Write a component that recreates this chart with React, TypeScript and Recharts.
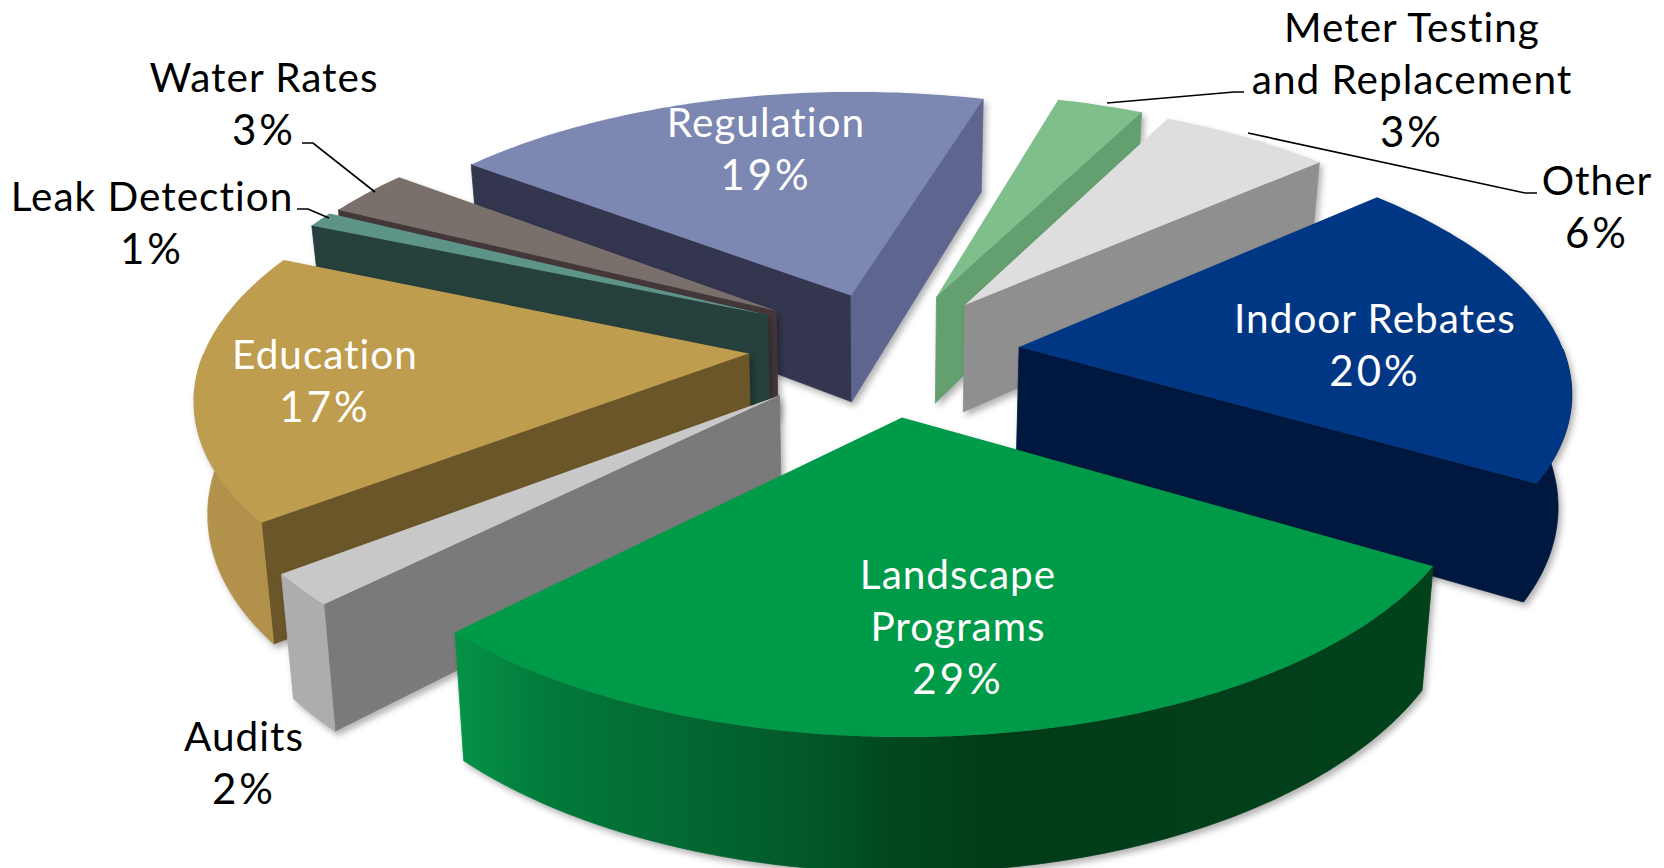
import { Pie, PieChart } from "recharts";

const categories = [
  "Landscape Programs",
  "Audits",
  "Education",
  "Leak Detection",
  "Water Rates",
  "Regulation",
  "Meter Testing and Replacement",
  "Other",
  "Indoor Rebates",
];
const shares = [29, 2, 17, 1, 3, 19, 3, 6, 20];

const rows = categories.map((name, i) => ({ name, value: shares[i] }));

// back-to-front painting order of the pulled-apart wedges
const paintOrder = [
  "Regulation",
  "Water Rates",
  "Leak Detection",
  "Education",
  "Audits",
  "Meter Testing and Replacement",
  "Other",
  "Indoor Rebates",
  "Landscape Programs",
];

const WIDTH = 1664;
const HEIGHT = 868;
const CENTER_X = 884;
const CENTER_Y = 353;
const RADIUS = 545;
const START_ANGLE = -30.5;

// camera for the tilted disc
const TILT = 0.459;
const PERSPECTIVE = 0.15;
const THICKNESS = 110;
const BASE_SHRINK = 0.98;
const EXPLODE = 0.25;

// extra pull on a few wedges, in radii on the disc
const pullExtra: Record<string, [number, number]> = {
  Regulation: [0.015, 0],
  "Meter Testing and Replacement": [0.008, 0],
  Education: [0, -0.03],
  "Water Rates": [0.008, -0.04],
  "Leak Detection": [0.008, -0.05],
};

type SliceLook = {
  top: string;
  startWall: string;
  endWall: string;
  rim: [number, string][];
};

const looks: Record<string, SliceLook> = {
  "Landscape Programs": {
    top: "#009b48",
    startWall: "#014019",
    endWall: "#014019",
    rim: [
      [0, "#049347"],
      [0.1, "#03793a"],
      [0.355, "#02592a"],
      [0.43, "#014a20"],
      [0.557, "#013b18"],
      [1, "#01421b"],
    ],
  },
  Audits: { top: "#c8c8c8", startWall: "#7a7a7a", endWall: "#7a7a7a", rim: [[0, "#adadad"], [1, "#a6a6a6"]] },
  Education: { top: "#bf9d4e", startWall: "#6b5629", endWall: "#6b5629", rim: [[0, "#b3934b"], [1, "#a5853f"]] },
  "Leak Detection": { top: "#5e9488", startWall: "#26403d", endWall: "#26403d", rim: [[0, "#26403d"], [1, "#26403d"]] },
  "Water Rates": { top: "#7a706b", startWall: "#45383a", endWall: "#45383a", rim: [[0, "#45383a"], [1, "#45383a"]] },
  Regulation: { top: "#7c87b2", startWall: "#34364f", endWall: "#5e6690", rim: [[0, "#5e6690"], [1, "#5e6690"]] },
  "Meter Testing and Replacement": {
    top: "#7fbf8c",
    startWall: "#649f70",
    endWall: "#649f70",
    rim: [[0, "#649f70"], [1, "#649f70"]],
  },
  Other: { top: "#dedede", startWall: "#8f8f8f", endWall: "#8f8f8f", rim: [[0, "#8f8f8f"], [1, "#8f8f8f"]] },
  "Indoor Rebates": { top: "#003785", startWall: "#00183f", endWall: "#00183f", rim: [[0, "#00183f"], [1, "#00183f"]] },
};

type Placement = {
  lines: string[];
  x: number;
  y: number;
  color: string;
  leader?: [number, number][];
};

const placements: Record<string, Placement> = {
  "Landscape Programs": { lines: ["Landscape", "Programs"], x: 958, y: 573, color: "#fff" },
  Audits: { lines: ["Audits"], x: 244, y: 735, color: "#000" },
  Education: { lines: ["Education"], x: 325, y: 353, color: "#fff" },
  "Leak Detection": {
    lines: ["Leak Detection"],
    x: 152,
    y: 195,
    color: "#000",
    leader: [[297, 209], [308, 209], [329, 218]],
  },
  "Water Rates": {
    lines: ["Water Rates"],
    x: 264,
    y: 76,
    color: "#000",
    leader: [[302, 143], [313, 143], [375, 192]],
  },
  Regulation: { lines: ["Regulation"], x: 766, y: 121, color: "#fff" },
  "Meter Testing and Replacement": {
    lines: ["Meter Testing", "and Replacement"],
    x: 1412,
    y: 26,
    color: "#000",
    leader: [[1107, 103], [1234, 92], [1244, 92]],
  },
  Other: {
    lines: ["Other"],
    x: 1597,
    y: 179,
    color: "#000",
    leader: [[1248, 133], [1525, 193], [1537, 193]],
  },
  "Indoor Rebates": { lines: ["Indoor Rebates"], x: 1375, y: 317, color: "#fff" },
};

const LINE_STEP = 52.5;
const FONT_SIZE = 40.5;
const PERCENT_SIZE = 42;

const rad = (deg: number) => (deg * Math.PI) / 180;

// disc position (in radii, v towards the viewer) to screen position, top or base face
function project(cx: number, cy: number, r: number, u: number, v: number, base: boolean) {
  const w = 1 - PERSPECTIVE * v;
  const x = (r * u) / w;
  const y = (r * TILT * v) / w;
  if (!base) return [cx + x, cy + y];
  return [cx + x * BASE_SHRINK, cy + y + THICKNESS / w];
}

const toPath = (pts: number[][]) =>
  "M" + pts.map((p) => `${p[0].toFixed(1)},${p[1].toFixed(1)}`).join("L") + "Z";

function Wedge(props: any) {
  const { cx, cy, outerRadius: r, startAngle, endAngle, midAngle, name } = props;
  const look = looks[name];
  const [extraU, extraV] = pullExtra[name] ?? [0, 0];
  const ou = EXPLODE * Math.cos(rad(midAngle)) + extraU;
  const ov = -EXPLODE * Math.sin(rad(midAngle)) + extraV;
  const point = (deg: number, radius: number, base: boolean) =>
    project(cx, cy, r, ou + radius * Math.cos(rad(deg)), ov - radius * Math.sin(rad(deg)), base);

  const steps = Math.max(4, Math.ceil(Math.abs(startAngle - endAngle)));
  const arc: number[] = [];
  for (let i = 0; i <= steps; i++) arc.push(startAngle + ((endAngle - startAngle) * i) / steps);

  const apex = point(0, 0, false);
  const apexBase = point(0, 0, true);
  const topFace = toPath([apex, ...arc.map((a) => point(a, 1, false))]);

  const startFaces = Math.sin(rad(startAngle + 90)) < 0;
  const endFaces = Math.sin(rad(endAngle - 90)) < 0;

  const front = arc.filter((a) => Math.sin(rad(a)) < 0);
  const rimPts = front.map((a) => point(a, 1, false));
  const rimBase = front.map((a) => point(a, 1, true)).reverse();
  const xs = rimPts.map((p) => p[0]);
  const gradientId = `rim-${props.index}`;
  const seam = 0.8;

  return (
    <g style={{ filter: "drop-shadow(3px 4px 3px rgba(0,0,0,0.3))" }}>
      <defs>
        <linearGradient
          id={gradientId}
          gradientUnits="userSpaceOnUse"
          x1={Math.min(...xs, cx)}
          x2={Math.max(...xs, cx)}
          y1={0}
          y2={0}
        >
          {look.rim.map(([offset, color]) => (
            <stop key={offset} offset={offset} stopColor={color} />
          ))}
        </linearGradient>
      </defs>
      {startFaces && (
        <path
          d={toPath([apex, point(startAngle, 1, false), point(startAngle, 1, true), apexBase])}
          fill={look.startWall}
          stroke={look.startWall}
          strokeWidth={seam}
        />
      )}
      {endFaces && (
        <path
          d={toPath([apex, point(endAngle, 1, false), point(endAngle, 1, true), apexBase])}
          fill={look.endWall}
          stroke={look.endWall}
          strokeWidth={seam}
        />
      )}
      {front.length > 1 && (
        <path
          d={toPath([...rimPts, ...rimBase])}
          fill={`url(#${gradientId})`}
          stroke={`url(#${gradientId})`}
          strokeWidth={seam}
        />
      )}
      <path d={topFace} fill={look.top} />
    </g>
  );
}

function SliceLabel(props: any) {
  const { name, value } = props;
  const place = placements[name];
  const lines = [...place.lines, `${value}%`];
  return (
    <g>
      {place.leader && (
        <polyline
          points={place.leader.map((p) => p.join(",")).join(" ")}
          fill="none"
          stroke="#000"
          strokeWidth={1.7}
        />
      )}
      {lines.map((line, i) => {
        const isPercent = i === lines.length - 1;
        return (
          <text
            key={line}
            x={place.x}
            y={place.y + i * LINE_STEP}
            textAnchor="middle"
            dominantBaseline="central"
            fill={place.color}
            fontFamily="Lato, sans-serif"
            fontSize={isPercent ? PERCENT_SIZE : FONT_SIZE}
            letterSpacing={isPercent ? 3 : 1}
          >
            {line}
          </text>
        );
      })}
    </g>
  );
}

export default function App() {
  const pieProps = {
    data: rows,
    dataKey: "value",
    nameKey: "name",
    cx: CENTER_X,
    cy: CENTER_Y,
    innerRadius: 0,
    outerRadius: RADIUS,
    startAngle: START_ANGLE,
    endAngle: START_ANGLE - 360,
    paddingAngle: 0,
    isAnimationActive: false,
  };
  return (
    <div style={{ position: "absolute", left: 0, top: 0, width: WIDTH, height: HEIGHT, background: "#fff", overflow: "hidden" }}>
      <PieChart width={WIDTH} height={HEIGHT} margin={{ top: 0, right: 0, bottom: 0, left: 0 }}>
        {paintOrder.map((layer) => (
          <Pie
            key={layer}
            {...pieProps}
            shape={(p: any) => (p.name === layer ? <Wedge {...p} /> : <g />)}
          />
        ))}
        <Pie {...pieProps} shape={() => <g />} label={SliceLabel} labelLine={false} />
      </PieChart>
    </div>
  );
}
